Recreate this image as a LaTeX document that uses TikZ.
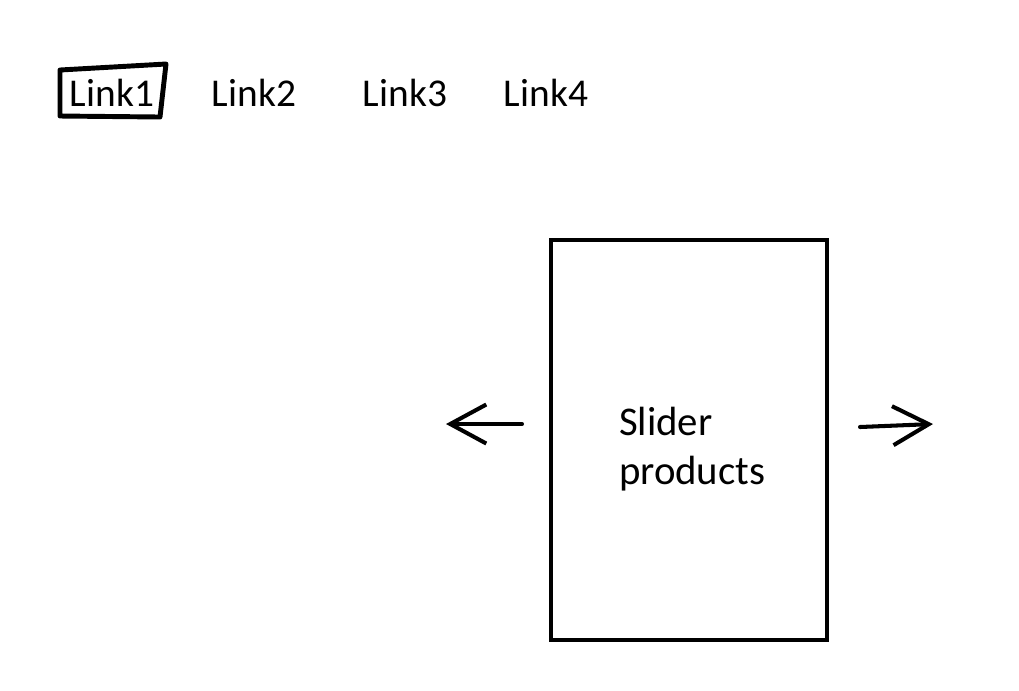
\documentclass[tikz,border=0pt]{standalone}
\usepackage{fontspec}
\setmainfont{Carlito}
\usetikzlibrary{arrows.meta}

\begin{document}
\begin{tikzpicture}[x=0.01cm, y=-0.01cm, line width=1.15pt,
  link/.style = {anchor=base, inner sep=0, font=\fontsize{11.2}{13.7}\selectfont},
  arr/.style = {-{Straight Barb[length=3.6mm, width=3.9mm]}, line cap=round}]
\useasboundingbox (0,0) rectangle (1019,690);
\node[link] (l1) at (112,106) {Link1};
\node[link] (l2) at (254,106) {Link2};
\node[link] (l3) at (405,106) {Link3};
\node[link] (l4) at (546,106) {Link4};
\draw[line width=1.4pt, line join=round] (60,70) -- (166,64) -- (160,117) -- (60,116) -- cycle;
\node[draw, minimum width=2.76cm, minimum height=4cm] (slider) at (689,440) {};
\node[link, anchor=base west, align=left, font=\fontsize{11.6}{13.7}\selectfont] (txt) at (617,484) {Slider\\products};
\coordinate (ltail) at (522,424);
\coordinate (lhead) at (446,424);
\coordinate (rtail) at (860,427);
\coordinate (rhead) at (933,424);
\draw[arr] (ltail) -- (lhead);
\draw[arr] (rtail) -- (rhead);
\end{tikzpicture}
\end{document}
